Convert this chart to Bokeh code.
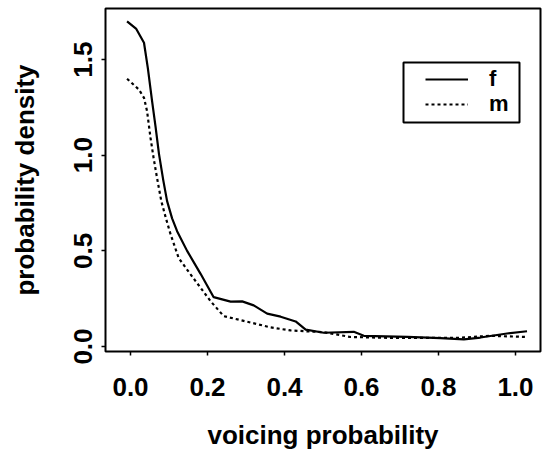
from bokeh.plotting import figure
from bokeh.models import Range1d, FixedTicker, Legend, LegendItem, CustomJSTickFormatter, BoxAnnotation
from bokeh.embed import file_html
from bokeh.resources import INLINE

# female (solid) density curve
x_f = [-0.009, 0.015, 0.035, 0.045, 0.056, 0.065, 0.074, 0.085, 0.095, 0.108, 0.121, 0.147, 0.182,
       0.216, 0.26, 0.29, 0.32, 0.355, 0.39, 0.429, 0.455, 0.502, 0.58, 0.606, 0.719,
       0.805, 0.866, 0.909, 0.978, 1.03]
y_f = [1.70, 1.66, 1.588, 1.455, 1.283, 1.15, 1.006, 0.87, 0.76, 0.67, 0.603, 0.50, 0.38,
       0.258, 0.235, 0.236, 0.215, 0.172, 0.156, 0.131, 0.088, 0.072, 0.077, 0.056, 0.05,
       0.044, 0.037, 0.047, 0.068, 0.08]

# male (dashed) density curve
x_m = [-0.009, 0.022, 0.035, 0.043, 0.052, 0.06, 0.069, 0.08, 0.092, 0.104, 0.125, 0.156,
       0.182, 0.208, 0.242, 0.294, 0.364, 0.416, 0.502, 0.571, 0.675, 0.848, 0.935, 1.03]
y_m = [1.40, 1.343, 1.30, 1.23, 1.09, 0.985, 0.88, 0.76, 0.67, 0.587, 0.463, 0.377,
       0.307, 0.237, 0.159, 0.134, 0.10, 0.084, 0.075, 0.05, 0.045, 0.045, 0.056, 0.05]

x_ticks = [0.0, 0.2, 0.4, 0.6, 0.8, 1.0]
y_ticks = [0.0, 0.5, 1.0, 1.5]
series_labels = ["f", "m"]

FONT = "Liberation Sans"

p = figure(width=543, height=458, output_backend="svg", toolbar_location=None,
           x_range=Range1d(-0.065, 1.065), y_range=Range1d(-0.026, 1.767),
           min_border_left=105, min_border_right=3, min_border_top=8, min_border_bottom=107)

p.background_fill_color = "white"
p.border_fill_color = "white"
p.outline_line_color = "black"
p.outline_line_width = 2
p.xgrid.visible = False
p.ygrid.visible = False

r_f = p.line(x_f, y_f, line_color="black", line_width=2.2)
r_m = p.line(x_m, y_m, line_color="black", line_width=2.2, line_dash="3 3")

fmt = CustomJSTickFormatter(code="return tick.toFixed(1);")
for ax, ticks in ((p.xaxis, x_ticks), (p.yaxis, y_ticks)):
    ax.ticker = FixedTicker(ticks=ticks)
    ax.formatter = fmt
    ax.minor_tick_line_color = None
    ax.axis_line_color = None
    ax.major_tick_in = 0
    ax.major_tick_out = 4
    ax.major_tick_line_width = 1.5
    ax.major_tick_line_color = "black"
    ax.major_label_text_font = FONT
    ax.major_label_text_font_size = "26px"
    ax.major_label_text_font_style = "bold"
    ax.major_label_text_color = "black"
    ax.axis_label_text_font = FONT
    ax.axis_label_text_font_size = "26px"
    ax.axis_label_text_font_style = "bold"
    ax.axis_label_text_color = "black"

p.xaxis.axis_label = "voicing probability"
p.yaxis.axis_label = "probability density"
p.xaxis.major_label_standoff = 22
p.xaxis.axis_label_standoff = 21
p.yaxis.major_label_standoff = 9
p.yaxis.axis_label_standoff = 32
p.yaxis.major_label_orientation = "parallel"

# legend frame (screen units, relative to the plot frame) so rows can be tight like R's legend
frame_box = BoxAnnotation(left=298, right=414, top=289, bottom=229,
                          left_units="screen", right_units="screen",
                          top_units="screen", bottom_units="screen",
                          fill_color="white", fill_alpha=1,
                          line_color="black", line_width=2, line_alpha=1, level="annotation")
p.add_layout(frame_box)

renderers = [r_f, r_m]
row_locations = [(320, 259), (320, 234)]
for lab, rend, loc in zip(series_labels, renderers, row_locations):
    lg = Legend(items=[LegendItem(label=lab, renderers=[rend])], location=loc)
    lg.label_text_font = FONT
    lg.label_text_font_size = "22px"
    lg.label_text_font_style = "bold"
    lg.label_text_color = "black"
    lg.glyph_width = 43
    lg.glyph_height = 20
    lg.label_height = 20
    lg.label_standoff = 21
    lg.padding = 0
    lg.margin = 0
    lg.border_line_color = None
    lg.background_fill_alpha = 0
    p.add_layout(lg)

open("out.html", "w").write(file_html(p, INLINE))
